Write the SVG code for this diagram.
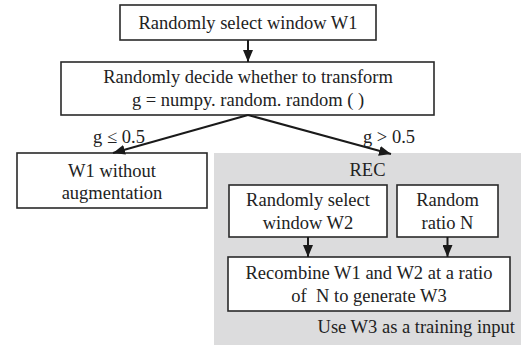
<svg xmlns="http://www.w3.org/2000/svg" width="521" height="345" viewBox="0 0 521 345">
<defs>
<style>
.box{fill:#fff;stroke:#2a2a2a;stroke-width:1.6}
.t{font-family:"Liberation Serif","Times New Roman",serif;font-size:18.5px;fill:#222;text-anchor:middle}
.ln{stroke:#1a1a1a;stroke-width:2;fill:none}
</style>
<marker id="ah" markerWidth="12" markerHeight="10" viewBox="0 0 12 10" refX="12" refY="5" orient="auto" markerUnits="userSpaceOnUse">
<path d="M0,0 L12,5 L0,10 Z" fill="#1a1a1a"/>
</marker>
</defs>
<rect id="rec-region" x="214" y="153" width="307" height="192" fill="#dcdcdd"/>
<g id="n1">
<rect class="box" x="120" y="5" width="256" height="35"/>
<text class="t" x="248" y="29">Randomly select window W1</text>
</g>
<g id="n2">
<rect class="box" x="61" y="62" width="373" height="53"/>
<text class="t" x="248" y="83">Randomly decide whether to transform</text>
<text class="t" x="248" y="106">g = numpy. random. random ( )</text>
</g>
<g id="n3">
<rect class="box" x="17" y="153" width="190" height="55"/>
<text class="t" x="112" y="177">W1 without</text>
<text class="t" x="112" y="199">augmentation</text>
</g>
<g id="rec">
<text class="t" x="367.5" y="176">REC</text>
<text class="t" x="515" y="333" style="text-anchor:end">Use W3 as a training input</text>
</g>
<g id="n4">
<rect class="box" x="229" y="185" width="158" height="52"/>
<text class="t" x="308" y="206">Randomly select</text>
<text class="t" x="308" y="229">window W2</text>
</g>
<g id="n5">
<rect class="box" x="397" y="185" width="101" height="52"/>
<text class="t" x="447.5" y="206">Random</text>
<text class="t" x="447.5" y="229">ratio N</text>
</g>
<g id="n6">
<rect class="box" x="228" y="257" width="282" height="54"/>
<text class="t" x="369" y="279">Recombine W1 and W2 at a ratio</text>
<text class="t" x="369" y="302" xml:space="preserve">of  N to generate W3</text>
</g>
<g id="connectors">
<line class="ln" x1="248" y1="40" x2="248" y2="62" marker-end="url(#ah)"/>
<line class="ln" x1="248" y1="115" x2="113" y2="153" marker-end="url(#ah)"/>
<line class="ln" x1="248" y1="115" x2="391" y2="154" marker-end="url(#ah)"/>
<line class="ln" x1="308" y1="237" x2="308" y2="257" marker-end="url(#ah)"/>
<line class="ln" x1="447.5" y1="237" x2="447.5" y2="257" marker-end="url(#ah)"/>
<text class="t" x="119" y="143">g ≤ 0.5</text>
<text class="t" x="389" y="143">g &gt; 0.5</text>
</g>
</svg>
